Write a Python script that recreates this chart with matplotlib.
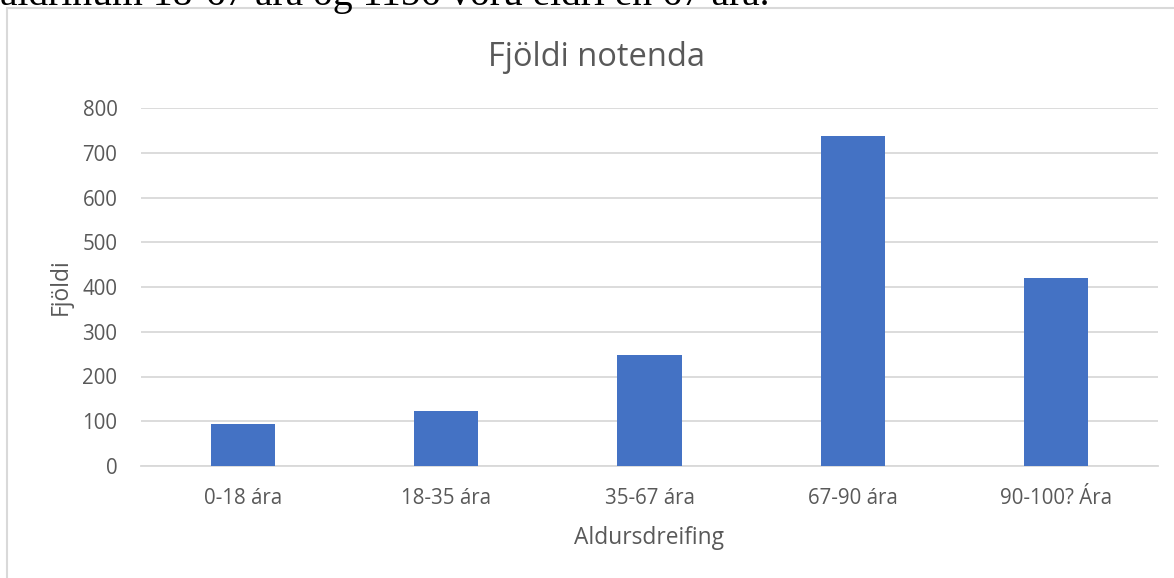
import matplotlib
matplotlib.use('Agg')
import matplotlib.pyplot as plt
from matplotlib.patches import Rectangle
import numpy as np

# data
categories = ['0-18 ára', '18-35 ára', '35-67 ára', '67-90 ára', '90-100? Ára']
counts = [94, 122, 248, 737, 419]
y_ticks = [0, 100, 200, 300, 400, 500, 600, 700, 800]

plt.rcParams['font.family'] = ['Open Sans', 'DejaVu Sans']
text_grey = '#595959'
grid_grey = '#d9d9d9'

W, H = 1174, 578
fig = plt.figure(figsize=(W / 100, H / 100), dpi=100)

# clipped line of document text above the chart
fig.text(0.0, 1 - 5 / H, 'aldrinum 18-67 ára og 1156 voru eldri en 67 ára.',
         family='Liberation Serif', fontsize=28.5, color='black',
         ha='left', va='baseline')

# chart frame (runs off the right and bottom edges)
fig.add_artist(Rectangle((7 / W, -0.1), 1.2, 1.1 - 8 / H,
                         transform=fig.transFigure, fill=False,
                         edgecolor=grid_grey, linewidth=1.5))

ax = fig.add_axes([141 / W, 1 - 466 / H, (1158 - 141) / W, (466 - 108) / H])

x = np.arange(len(categories))
ax.bar(x, counts, width=0.315, color='#4472C4', zorder=3)

ax.set_xlim(-0.5, len(categories) - 0.5)
ax.set_ylim(0, 800)
ax.set_yticks(y_ticks)
ax.set_xticks(x)
ax.set_xticklabels(categories)

ax.grid(axis='y', color=grid_grey, linewidth=1.3, zorder=0)
for side in ['top', 'right', 'left']:
    ax.spines[side].set_visible(False)
ax.spines['bottom'].set_color(grid_grey)
ax.spines['bottom'].set_linewidth(1.3)

ax.tick_params(axis='both', length=0, labelsize=14.8, colors=text_grey)
ax.tick_params(axis='y', pad=17)
ax.tick_params(axis='x', pad=15.5)

# title is centred on the whole chart frame, not on the plot area
fig.text(597 / W, 1 - 66 / H, 'Fjöldi notenda', fontsize=23.5, color=text_grey,
         ha='center', va='baseline')
ax.set_xlabel('Aldursdreifing', fontsize=16.4, color=text_grey, labelpad=12.5)
ax.set_ylabel('Fjöldi', fontsize=16.4, color=text_grey, labelpad=7)

fig.savefig('out.png', dpi=100)
